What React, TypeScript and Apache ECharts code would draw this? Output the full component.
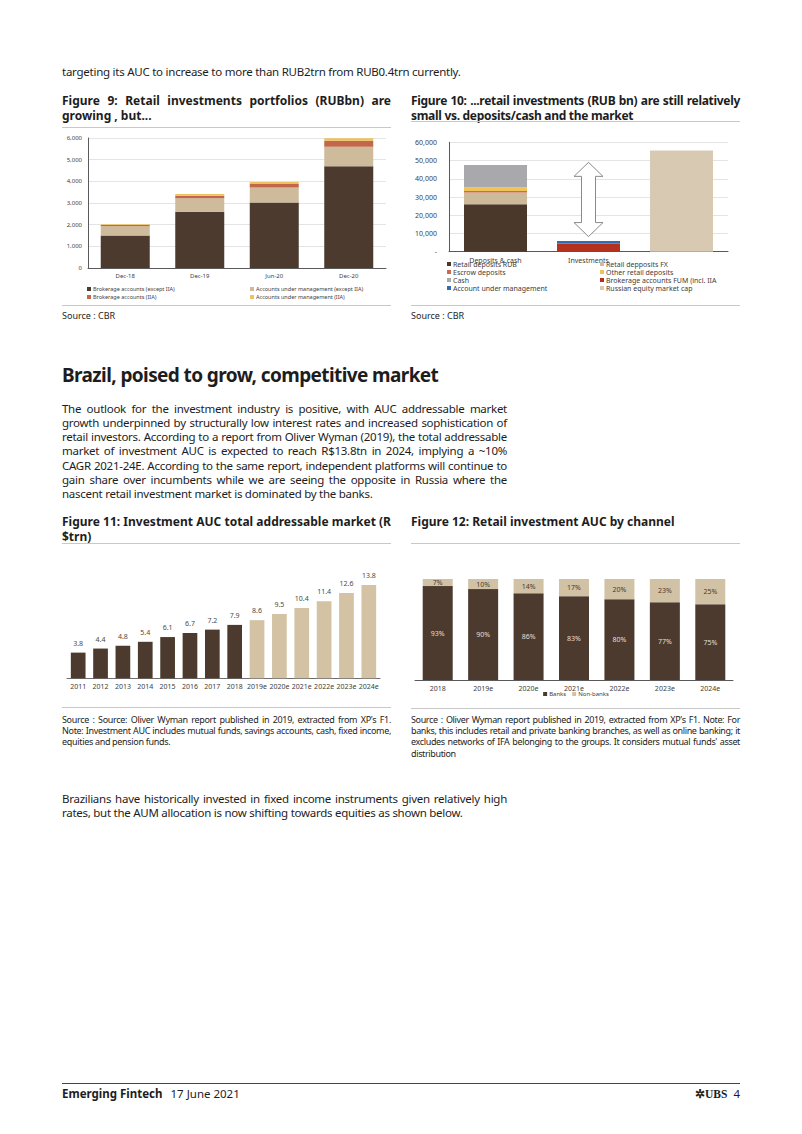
import React, { useEffect, useRef } from 'react';
import * as echarts from 'echarts';

const FONT = '"Noto Sans", "Open Sans", sans-serif';

// ---------- Figure 9 data ----------
const fig9Categories = ['Dec-18', 'Dec-19', 'Jun-20', 'Dec-20'];
const fig9BrokerageExIIA = [1500, 2600, 3020, 4700];
const fig9AumExIIA = [430, 620, 690, 900];
const fig9BrokerageIIA = [60, 120, 170, 270];
const fig9AumIIA = [30, 70, 90, 120];

// ---------- Figure 10 data ----------
const fig10Categories = ['Deposits & cash', 'Investments', ''];
const fig10RetailRub = [26000, null, null];
const fig10RetailFx = [6500, null, null];
const fig10Escrow = [800, null, null];
const fig10OtherRetail = [2000, null, null];
const fig10Cash = [12300, null, null];
const fig10Brokerage = [null, 4500, null];
const fig10Aum = [null, 1300, null];
const fig10EquityCap = [null, null, 55500];
const fig10ArrowRange = [8300, 49000];

// ---------- Figure 11 data ----------
const fig11Years = ['2011', '2012', '2013', '2014', '2015', '2016', '2017', '2018', '2019e', '2020e', '2021e', '2022e', '2023e', '2024e'];
const fig11Values = [3.8, 4.4, 4.8, 5.4, 6.1, 6.7, 7.2, 7.9, 8.6, 9.5, 10.4, 11.4, 12.6, 13.8];

// ---------- Figure 12 data ----------
const fig12Years = ['2018', '2019e', '2020e', '2021e', '2022e', '2023e', '2024e'];
const fig12Banks = [93, 90, 86, 83, 80, 77, 75];
const fig12NonBanks = [7, 10, 14, 17, 20, 23, 25];

const DARK = '#4b3a2d';
const BEIGE = '#cdbb9c';
const TXT = '#1d1d1d';

function Chart({ style, option, after }: { style: any; option: any; after?: (c: any) => void }) {
  const ref = useRef<HTMLDivElement>(null);
  useEffect(() => {
    const c = echarts.init(ref.current!, null, { renderer: 'svg' });
    c.setOption(option);
    if (after) after(c);
    return () => c.dispose();
  }, []);
  return <div ref={ref} style={{ position: 'absolute', ...style }} />;
}

const fmt = (v: number) => v.toLocaleString('en-US');

const fig9Legend = (names: string[], left: number) => ({
  data: names, orient: 'vertical', left, top: 155, padding: 0,
  icon: 'rect', itemWidth: 4, itemHeight: 4, itemGap: 0,
  textStyle: { fontSize: 5.5, lineHeight: 8, color: '#404040', padding: [0, 0, 0, -3] },
});

const fig9Option = {
  animation: false,
  textStyle: { fontFamily: FONT },
  grid: { left: 26, right: 6, top: 8, bottom: 37 },
  xAxis: {
    type: 'category', data: fig9Categories,
    axisLine: { lineStyle: { color: '#5a5a5a' } }, axisTick: { show: false },
    axisLabel: { fontSize: 6, color: '#404040', margin: 5 },
  },
  yAxis: {
    type: 'value', min: 0, max: 6000, interval: 1000,
    axisLine: { show: true, lineStyle: { color: '#5a5a5a' } },
    splitLine: { lineStyle: { color: '#e4e4e4' } },
    axisLabel: { fontSize: 6, color: '#404040', margin: 6, formatter: fmt },
  },
  legend: [
    fig9Legend(['Brokerage accounts (except IIA)', 'Brokerage accounts (IIA)'], 25),
    fig9Legend(['Accounts under management (except IIA)', 'Accounts under management (IIA)'], 188),
  ],
  series: [
    { name: 'Brokerage accounts (except IIA)', type: 'bar', stack: 't', barWidth: 49, data: fig9BrokerageExIIA, itemStyle: { color: DARK } },
    { name: 'Accounts under management (except IIA)', type: 'bar', stack: 't', data: fig9AumExIIA, itemStyle: { color: BEIGE } },
    { name: 'Brokerage accounts (IIA)', type: 'bar', stack: 't', data: fig9BrokerageIIA, itemStyle: { color: '#c2674a' } },
    { name: 'Accounts under management (IIA)', type: 'bar', stack: 't', data: fig9AumIIA, itemStyle: { color: '#ecc25e' } },
  ],
};

const fig10Legend = (names: string[], left: number) => ({
  data: names, orient: 'vertical', left, top: 130, padding: 0,
  icon: 'rect', itemWidth: 4, itemHeight: 4, itemGap: 0,
  textStyle: { fontSize: 7, lineHeight: 8, color: '#404040', padding: [0, 0, 0, -3] },
});

const fig10Option = {
  animation: false,
  textStyle: { fontFamily: FONT },
  grid: { left: 38, right: 13, top: 12.3, bottom: 53.3 },
  xAxis: {
    type: 'category', data: fig10Categories,
    axisLine: { lineStyle: { color: '#5a5a5a' } }, axisTick: { show: false },
    axisLabel: { fontSize: 7, color: '#404040', margin: 5 },
  },
  yAxis: {
    type: 'value', min: 0, max: 60000, interval: 10000,
    axisLine: { show: true, lineStyle: { color: '#5a5a5a' } },
    splitLine: { lineStyle: { color: '#e4e4e4' } },
    axisLabel: { fontSize: 7, color: '#404040', margin: 12, formatter: (v: number) => (v === 0 ? '-' : fmt(v)) },
  },
  legend: [
    fig10Legend(['Retail deposits RUB', 'Escrow deposits', 'Cash', 'Account under management'], 36),
    fig10Legend(['Retail depposits FX', 'Other retail deposits', 'Brokerage accounts FUM (incl. IIA', 'Russian equity market cap'], 189),
  ],
  series: [
    { name: 'Retail deposits RUB', type: 'bar', stack: 't', barWidth: 63, data: fig10RetailRub, itemStyle: { color: '#4a392b' } },
    { name: 'Retail depposits FX', type: 'bar', stack: 't', data: fig10RetailFx, itemStyle: { color: '#cdba9b' } },
    { name: 'Escrow deposits', type: 'bar', stack: 't', data: fig10Escrow, itemStyle: { color: '#cc6b4b' } },
    { name: 'Other retail deposits', type: 'bar', stack: 't', data: fig10OtherRetail, itemStyle: { color: '#efc358' } },
    { name: 'Cash', type: 'bar', stack: 't', data: fig10Cash, itemStyle: { color: '#a9a9ad' } },
    { name: 'Brokerage accounts FUM (incl. IIA', type: 'bar', stack: 't', data: fig10Brokerage, itemStyle: { color: '#b3321f' } },
    { name: 'Account under management', type: 'bar', stack: 't', data: fig10Aum, itemStyle: { color: '#2f6cb3' } },
    { name: 'Russian equity market cap', type: 'bar', stack: 't', data: fig10EquityCap, itemStyle: { color: '#d8cab2' } },
  ],
};

const fig10After = (c: any) => {
  const [cx, yT] = c.convertToPixel({ xAxisIndex: 0, yAxisIndex: 0 }, [1, fig10ArrowRange[1]]);
  const [, yB] = c.convertToPixel({ xAxisIndex: 0, yAxisIndex: 0 }, [1, fig10ArrowRange[0]]);
  const hw = 14.5, sw = 7, hl = 14;
  c.setOption({
    graphic: [{
      type: 'polygon',
      shape: {
        points: [
          [cx, yT], [cx + hw, yT + hl], [cx + sw, yT + hl], [cx + sw, yB - hl], [cx + hw, yB - hl],
          [cx, yB], [cx - hw, yB - hl], [cx - sw, yB - hl], [cx - sw, yT + hl], [cx - hw, yT + hl],
        ],
      },
      style: { fill: '#ffffff', stroke: '#8a8a8a', lineWidth: 1 },
      z: 100,
    }],
  });
};

const fig11Option = {
  animation: false,
  textStyle: { fontFamily: FONT },
  grid: { left: 5, right: 12, top: 16.9, bottom: 21.7 },
  xAxis: {
    type: 'category', data: fig11Years,
    axisLine: { lineStyle: { color: '#6f6f6f' } }, axisTick: { show: false },
    axisLabel: { fontSize: 7, color: '#404040', margin: 5, interval: 0 },
  },
  yAxis: { type: 'value', min: 0, max: 15, show: false, splitLine: { show: false } },
  series: [{
    type: 'bar', barWidth: 14.7, data: fig11Values,
    itemStyle: { color: (p: any) => (fig11Years[p.dataIndex].endsWith('e') ? '#d3c2a3' : DARK) },
    label: { show: true, position: 'top', distance: 6, fontSize: 7, color: '#4a4a4a' },
  }],
};

const fig12Option = {
  animation: false,
  textStyle: { fontFamily: FONT },
  grid: { left: 4, right: 8, top: 19, bottom: 25 },
  xAxis: {
    type: 'category', data: fig12Years,
    axisLine: { lineStyle: { color: '#5a5a5a' } }, axisTick: { show: false },
    axisLabel: { fontSize: 7, color: '#404040', margin: 5, interval: 0 },
  },
  yAxis: { type: 'value', min: 0, max: 100, show: false, splitLine: { show: false } },
  legend: {
    data: ['Banks', 'Non-banks'], left: 'center', top: 131, padding: 0, icon: 'rect', itemWidth: 4, itemHeight: 4, itemGap: 6,
    textStyle: { fontSize: 6, color: '#404040', padding: [0, 0, 0, -3] },
  },
  series: [
    {
      name: 'Banks', type: 'bar', stack: 't', barWidth: 30, data: fig12Banks,
      itemStyle: { color: DARK },
      label: { show: true, position: 'inside', fontSize: 7, color: '#e9dfcf', formatter: '{c}%' },
    },
    {
      name: 'Non-banks', type: 'bar', stack: 't', data: fig12NonBanks,
      itemStyle: { color: '#d2c2a5' },
      label: { show: true, position: 'inside', fontSize: 7, color: '#4b3a2d', formatter: '{c}%' },
    },
  ],
};

// ---------- text helpers ----------
function Lines({ x, y, w, lh, size, lines, bold, color, ls }: any) {
  return (
    <div style={{ position: 'absolute', left: x, top: y, width: w, fontSize: size, lineHeight: lh + 'px', fontWeight: bold ? 700 : 400, color: color || TXT, whiteSpace: 'nowrap', letterSpacing: (ls || 0) + 'px' }}>
      {lines.map((t: string, i: number) => (
        <div key={i} style={{ textAlign: 'justify', textAlignLast: i < lines.length - 1 ? 'justify' : 'left', height: lh }}>{t}</div>
      ))}
    </div>
  );
}

function Rule({ x, y, w, color, h }: any) {
  return <div style={{ position: 'absolute', left: x, top: y, width: w, height: h || 1, background: color || '#c8c8c8' }} />;
}

export default function App() {
  return (
    <div style={{ position: 'absolute', left: 0, top: 0, width: 802, height: 1134, background: '#fff', fontFamily: FONT, color: TXT, overflow: 'hidden' }}>
      <Lines x={62} y={65} w={460} lh={14} size={11.5} ls={-0.25} lines={['targeting its AUC to increase to more than RUB2trn from RUB0.4trn currently.']} />

      <Lines x={62} y={92.5} w={329} lh={15} size={12} bold lines={['Figure 9: Retail investments portfolios (RUBbn) are', 'growing , but...']} />
      <Lines x={411} y={92.5} w={329} lh={15} size={12} bold ls={-0.3} lines={['Figure 10: ...retail investments (RUB bn) are still relatively', 'small vs. deposits/cash and the market']} />
      <Rule x={62} y={127} w={329} />
      <Rule x={411} y={121} w={329} />

      <Chart style={{ left: 62, top: 130, width: 330, height: 175 }} option={fig9Option} />
      <Chart style={{ left: 411, top: 130, width: 330, height: 175 }} option={fig10Option} after={fig10After} />

      <Rule x={62} y={305} w={329} />
      <Rule x={411} y={305} w={329} />
      <Lines x={62} y={310} w={200} lh={12} size={9} lines={['Source : CBR']} />
      <Lines x={411} y={310} w={200} lh={12} size={9} lines={['Source : CBR']} />

      <Lines x={62} y={362} w={460} lh={26} size={19} bold ls={-0.6} lines={['Brazil, poised to grow, competitive market']} />

      <Lines x={62} y={402} w={445} lh={14.17} size={11.5} ls={-0.27} lines={[
        'The outlook for the investment industry is positive, with AUC addressable market',
        'growth underpinned by structurally low interest rates and increased sophistication of',
        'retail investors. According to a report from Oliver Wyman (2019), the total addressable',
        'market of investment AUC is expected to reach R$13.8tn in 2024, implying a ~10%',
        'CAGR 2021-24E. According to the same report, independent platforms will continue to',
        'gain share over incumbents while we are seeing the opposite in Russia where the',
        'nascent retail investment market is dominated by the banks.',
      ]} />

      <Lines x={62} y={515} w={329} lh={14.8} size={12} bold lines={['Figure 11: Investment AUC total addressable market (R', '$trn)']} />
      <Lines x={411} y={515} w={329} lh={14.8} size={12} bold lines={['Figure 12: Retail investment AUC by channel']} />
      <Rule x={62} y={543} w={329} />
      <Rule x={411} y={543} w={329} />

      <Chart style={{ left: 62, top: 560, width: 330, height: 140 }} option={fig11Option} />
      <Chart style={{ left: 411, top: 560, width: 330, height: 145 }} option={fig12Option} />

      <Rule x={62} y={707} w={329} />
      <Rule x={411} y={708} w={329} />
      <Lines x={62} y={714} w={329} lh={11.2} size={9} ls={-0.32} lines={[
        "Source : Source: Oliver Wyman report published in 2019, extracted from XP's F1.",
        'Note: Investment AUC includes mutual funds, savings accounts, cash, fixed income,',
        'equities and pension funds.',
      ]} />
      <Lines x={411} y={714} w={329} lh={11.2} size={9} ls={-0.36} lines={[
        "Source : Oliver Wyman report published in 2019, extracted from XP's F1. Note: For",
        'banks, this includes retail and private banking branches, as well as online banking; it',
        "excludes networks of IFA belonging to the groups. It considers mutual funds' asset",
        'distribution',
      ]} />

      <Lines x={62} y={792} w={445} lh={14.17} size={11.5} ls={-0.27} lines={[
        'Brazilians have historically invested in fixed income instruments given relatively high',
        'rates, but the AUM allocation is now shifting towards equities as shown below.',
      ]} />

      <Rule x={62} y={1083} w={678} color="#444" />
      <div style={{ position: 'absolute', left: 62, top: 1087, fontSize: 11.5, lineHeight: '14px', whiteSpace: 'nowrap' }}>
        <span style={{ fontWeight: 700 }}>Emerging Fintech</span>
        <span style={{ marginLeft: 8 }}>17 June 2021</span>
      </div>
      <div style={{ position: 'absolute', right: 62, top: 1087, fontSize: 11.5, lineHeight: '14px', whiteSpace: 'nowrap' }}>
        <span style={{ fontFamily: '"Liberation Serif", serif', fontWeight: 700 }}>✲UBS</span>
        <span style={{ marginLeft: 6 }}>4</span>
      </div>
    </div>
  );
}
